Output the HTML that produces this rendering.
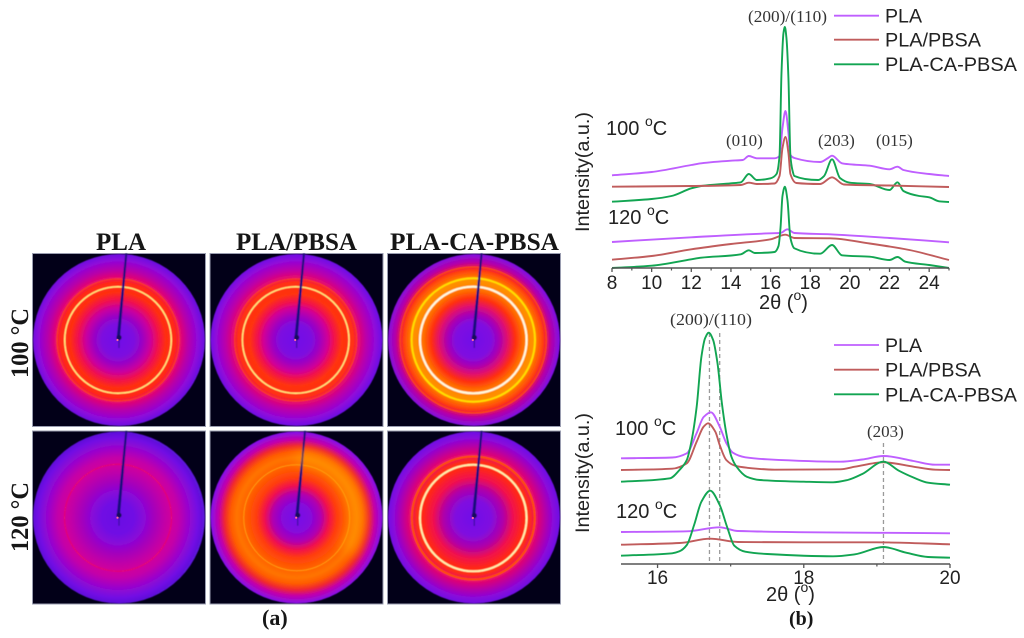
<!DOCTYPE html>
<html lang="en">
<head>
<meta charset="utf-8">
<title>WAXD patterns and diffraction profiles of PLA blends</title>
<style>
html,body{margin:0;padding:0;background:#fff;width:1024px;height:638px;overflow:hidden}
svg{display:block;filter:blur(.35px)}
.serif-b{font-family:"Liberation Serif",serif;font-weight:bold;fill:#161616}
.serif{font-family:"Liberation Serif",serif;fill:#333}
.sans{font-family:"Liberation Sans",sans-serif;fill:#222}
</style>
</head>
<body>
<svg id="figure" xmlns="http://www.w3.org/2000/svg" width="1024" height="638" viewBox="0 0 1024 638">
<defs id="defs"><filter id="soft"><feGaussianBlur stdDeviation="0.5"/></filter><filter id="glow" x="-30%" y="-30%" width="160%" height="160%"><feGaussianBlur stdDeviation="6"/></filter></defs>
<g id="panels"></g>
<text class="serif-b" x="96" y="250" font-size="25" textLength="50" lengthAdjust="spacingAndGlyphs">PLA</text>
<text class="serif-b" x="236" y="250" font-size="25" textLength="121" lengthAdjust="spacingAndGlyphs">PLA/PBSA</text>
<text class="serif-b" x="390" y="250" font-size="25" textLength="169" lengthAdjust="spacingAndGlyphs">PLA-CA-PBSA</text>
<text class="serif-b" transform="translate(28,378) rotate(-90)" font-size="25" textLength="70" lengthAdjust="spacingAndGlyphs">100 °C</text>
<text class="serif-b" transform="translate(28,552) rotate(-90)" font-size="25" textLength="70" lengthAdjust="spacingAndGlyphs">120 °C</text>
<text class="serif-b" x="262" y="625" font-size="22">(a)</text>
<text class="serif-b" x="789" y="625" font-size="20">(b)</text>

<g id="topChart"></g>
<g id="botChart"></g>

<text class="serif" x="748" y="22" font-size="17" textLength="79" lengthAdjust="spacingAndGlyphs">(200)/(110)</text>
<text class="serif" x="726" y="146" font-size="17">(010)</text>
<text class="serif" x="818" y="146" font-size="17">(203)</text>
<text class="serif" x="876" y="146" font-size="17">(015)</text>
<text class="serif" x="670" y="325" font-size="17" textLength="82" lengthAdjust="spacingAndGlyphs">(200)/(110)</text>
<text class="serif" x="867" y="437" font-size="17">(203)</text>

<text class="sans" x="606" y="135" font-size="20">100 <tspan dy="-9" font-size="14">o</tspan><tspan dy="9">C</tspan></text>
<text class="sans" x="608" y="224" font-size="20">120 <tspan dy="-9" font-size="14">o</tspan><tspan dy="9">C</tspan></text>
<text class="sans" x="615" y="435" font-size="20">100 <tspan dy="-9" font-size="14">o</tspan><tspan dy="9">C</tspan></text>
<text class="sans" x="616" y="518" font-size="20">120 <tspan dy="-9" font-size="14">o</tspan><tspan dy="9">C</tspan></text>

<text class="sans" transform="translate(589,232) rotate(-90)" font-size="19" textLength="120" lengthAdjust="spacingAndGlyphs">Intensity(a.u.)</text>
<text class="sans" transform="translate(589,533) rotate(-90)" font-size="19" textLength="120" lengthAdjust="spacingAndGlyphs">Intensity(a.u.)</text>
<text class="sans" x="759" y="309" font-size="20">2θ (<tspan dy="-9" font-size="14">o</tspan><tspan dy="9">)</tspan></text>
<text class="sans" x="766" y="601" font-size="20">2θ (<tspan dy="-9" font-size="14">o</tspan><tspan dy="9">)</tspan></text>

<g>
<line x1="834" x2="879" y1="15.7" y2="15.7" stroke="#bf5fff" stroke-width="1.8"/>
<line x1="834" x2="879" y1="39.7" y2="39.7" stroke="#c05c5c" stroke-width="1.8"/>
<line x1="834" x2="879" y1="64.3" y2="64.3" stroke="#12a552" stroke-width="1.8"/>
<text class="sans" x="885" y="22.3" font-size="19.5" textLength="37" lengthAdjust="spacingAndGlyphs">PLA</text>
<text class="sans" x="885" y="46.7" font-size="19.5" textLength="96" lengthAdjust="spacingAndGlyphs">PLA/PBSA</text>
<text class="sans" x="885" y="71" font-size="19.5" textLength="132" lengthAdjust="spacingAndGlyphs">PLA-CA-PBSA</text>
</g>
<g>
<line x1="834" x2="879" y1="345" y2="345" stroke="#bf5fff" stroke-width="1.8"/>
<line x1="834" x2="879" y1="369.7" y2="369.7" stroke="#c05c5c" stroke-width="1.8"/>
<line x1="834" x2="879" y1="394.3" y2="394.3" stroke="#12a552" stroke-width="1.8"/>
<text class="sans" x="885" y="352" font-size="19.5" textLength="37" lengthAdjust="spacingAndGlyphs">PLA</text>
<text class="sans" x="885" y="376.7" font-size="19.5" textLength="96" lengthAdjust="spacingAndGlyphs">PLA/PBSA</text>
<text class="sans" x="885" y="401.3" font-size="19.5" textLength="132" lengthAdjust="spacingAndGlyphs">PLA-CA-PBSA</text>
</g>
</svg>
<script>
/* ---------- wide-range chart data (2-theta, intensity a.u.) ---------- */
var topTicks = [8,10,12,14,16,18,20,22,24];
var topMinorTicks = [9,11,13,15,17,19,21,23,25];
var topPla100X = [8,10,12,12.5,14,14.6,14.9,15.3,16.2,16.45,16.6,16.75,16.9,17,17.2,18.5,18.9,19.1,19.6,20,21,22,22.4,22.7,24,25];
var topPla100Y = [92.7,96,103,104.7,107.3,108,112,109.7,109.7,112,140,157,135,113,110,106,110,112.3,104.7,103.7,102.3,98.7,101.3,98,94,92];
var topBlend100X = [8,12,14.5,14.9,15.3,16.2,16.45,16.6,16.75,16.9,17,17.3,18.5,19.1,19.7,22,25];
var topBlend100Y = [81.3,82,83,85.3,84,84.5,92,120,131,115,94,85,84,90.7,83.5,82.5,81];
var topCa100X = [8,10,11,12,12.5,14,14.5,14.9,15.3,16,16.3,16.45,16.55,16.65,16.72,16.8,16.9,17,17.1,17.2,18.4,18.7,19.1,19.5,20,21,22,22.4,22.7,23.5,24,24.5,25];
var topCa100Y = [66.3,69,72,79.7,82,84.7,85.7,94,88,89.7,94,112,195,235,241,230,190,112,98,92,88,92,108.7,90,85.3,84,78,85.7,77,72,70.7,66.7,66];
var topPla120X = [8,12,16,16.5,16.85,17.2,19,22,25];
var topPla120Y = [26,30.7,34.7,35,38.7,35,33.7,30,25.7];
var topBlend120X = [8,10,12,14,16,16.75,17.2,19,21,23,25];
var topBlend120Y = [8.3,12,18.7,24,28.7,33.3,30,29.7,24.5,18,8];
var topCa120X = [8,10,12,12.5,14.5,14.9,15.2,16.2,16.4,16.5,16.6,16.72,16.85,17,17.2,18.5,19.1,19.6,21,22,22.4,22.8,24,25];
var topCa120Y = [0,2.3,8.7,10.3,13.7,17.7,15,16,22,40,72,81.3,68,30,19.7,14.3,23,12.7,11.3,8,11,6.3,3,0];

/* ---------- narrow-range chart data (2-theta, intensity a.u.) ---------- */
var botTicks = [16,18,20];
var botMinorTicks = [17,19];
var botPeakMarkers = [16.71,16.85,19.09];
var botPeakMarkerTops = [231,231,121];
var botPla100X = [15.5,16.2,16.4,16.535,16.63,16.73,16.85,16.94,17.03,17.2,17.5,18.5,18.8,19.09,19.5,19.8,20];
var botPla100Y = [105.7,106.5,110.7,131,147,151.7,137.3,121,111.3,106.7,104.7,102.3,104.5,108,103,99.3,99.3];
var botBlend100X = [15.5,16.2,16.4,16.535,16.63,16.69,16.79,16.85,16.94,17.06,17.22,17.6,18.5,18.7,19.09,19.5,19.8,20];
var botBlend100Y = [94,95.3,100.7,122.3,137.3,140.7,132.3,119,104,98.3,96.3,94.3,94.7,97.3,101.7,97.3,94.3,94];
var botCa100X = [15.5,16.17,16.3,16.4,16.467,16.535,16.6,16.65,16.7,16.76,16.82,16.88,16.94,17.01,17.08,17.22,17.4,18,18.4,18.6,18.8,19.09,19.3,19.5,19.7,20];
var botCa100Y = [82.3,85.7,94,104,124,157.3,207.3,225.7,231.3,224,200.7,160.7,130.7,107.3,97.3,87.3,84,82.3,81.7,84,90,102.3,93.3,86.5,81.3,79.3];
var botPla120X = [15.5,16.4,16.85,17.1,20];
var botPla120Y = [32,32.7,36.7,33,30.7];
var botBlend120X = [15.5,16.3,16.72,17.1,18,19,20];
var botBlend120Y = [19.3,21,25.3,22,21.7,21.7,19.7];
var botCa120X = [15.5,16.2,16.3,16.4,16.5,16.6,16.72,16.85,16.95,17.05,17.2,17.5,18.4,18.7,19.09,19.4,19.7,20];
var botCa120Y = [8.3,10.7,12.7,19,39,62.3,73.3,59,37.3,18.3,12.3,10,7.7,9.7,17,11.3,7,6.3];

/* ---------- diffraction-pattern colour profiles (radius, colour) ---------- */
var plaHot100Radii = [0,16,24,32,40,48,58,62,70,80,86];
var plaHot100Colors = ['#7010e8','#7c0ce0','#9a04c4','#c800a0','#f01050','#ff3010','#ff2818','#e8086a','#b800a8','#8c08dc','#6c12e0'];
var blendHot100Radii = [0,16,24,32,38,46,58,62,70,80,86];
var blendHot100Colors = ['#7010e8','#7c0ce0','#a000c0','#d00098','#f01050','#ff3410','#ff3014','#e80a68','#bc00a8','#8e08dc','#6e12e4'];
var caHot100Radii = [0,18,26,34,42,50,56,60,64,70,73,78,86];
var caHot100Colors = ['#7010e8','#800ce0','#a800b4','#e01070','#ff3010','#ff7000','#ff8a00','#ff9000','#ff7000','#ff3c10','#e81050','#b400a8','#8010e4'];
var plaHot120Radii = [0,16,26,36,46,53,60,70,80,86];
var plaHot120Colors = ['#6a10e4','#7010e4','#8808d8','#a400bc','#c000a8','#d0009c','#c400a8','#9a04cc','#7210e4','#5c12d8'];
var blendHot120Radii = [0,14,24,32,40,50,60,66,72,78,86];
var blendHot120Colors = ['#7410e8','#8408dc','#b000b0','#f01050','#ff3c10','#ff5c00','#ff7400','#ff5c00','#f02830','#c400a8','#8410ec'];
var caHot120Radii = [0,18,30,40,50,56,63,72,80,86];
var caHot120Colors = ['#7010e8','#800ce0','#b000a8','#f01050','#ff2818','#ff3014','#e80868','#b400a8','#8808dc','#7010e4'];

var SVGNS = 'http://www.w3.org/2000/svg';
function mk(tag, parent, attrs) {
  var el = document.createElementNS(SVGNS, tag);
  for (var k in attrs) el.setAttribute(k, attrs[k]);
  parent.appendChild(el);
  return el;
}

/* monotone cubic path through data-derived pixel points */
function curve(px, py) {
  var n = px.length, d = [], m = [], i;
  for (i = 0; i < n - 1; i++) d[i] = (py[i + 1] - py[i]) / (px[i + 1] - px[i]);
  m[0] = d[0]; m[n - 1] = d[n - 2];
  for (i = 1; i < n - 1; i++) {
    if (d[i - 1] * d[i] <= 0) m[i] = 0;
    else {
      var h0 = px[i] - px[i - 1], h1 = px[i + 1] - px[i];
      m[i] = 3 * (h0 + h1) / ((2 * h1 + h0) / d[i - 1] + (h1 + 2 * h0) / d[i]);
    }
  }
  var s = 'M' + px[0].toFixed(2) + ' ' + py[0].toFixed(2);
  for (i = 0; i < n - 1; i++) {
    var h = (px[i + 1] - px[i]) / 3;
    s += 'C' + (px[i] + h).toFixed(2) + ' ' + (py[i] + m[i] * h).toFixed(2) + ' ' +
      (px[i + 1] - h).toFixed(2) + ' ' + (py[i + 1] - m[i + 1] * h).toFixed(2) + ' ' +
      px[i + 1].toFixed(2) + ' ' + py[i + 1].toFixed(2);
  }
  return s;
}

/* axis functions */
function topXScale(v) { return 612 + (v - 8) * (949 - 612) / 17; }
function topYScale(v) { return 268 - v; }
function botXScale(v) { return 621 + (v - 15.5) * (950 - 621) / 4.5; }
function botYScale(v) { return 564 - v; }

function drawSeries(group, xs, ys, xScale, yScale, color, name) {
  var p = mk('path', group, {d: curve(xs.map(xScale), ys.map(yScale)), fill: 'none', stroke: color, 'stroke-width': 1.9});
  
  
}

function drawAxis(group, y, x0, x1, majors, minors, xScale, labelY) {
  var axis = mk('line', group, {x1: x0, x2: x1, y1: y, y2: y, stroke: '#555', 'stroke-width': 1.5});
  
  
  majors.forEach(function (v) {
    var t = mk('line', group, {x1: xScale(v), x2: xScale(v), y1: y, y2: y + 4, stroke: '#555', 'stroke-width': 1.3});
    
    
    var l = mk('text', group, {x: xScale(v), y: labelY, 'text-anchor': 'middle', 'font-size': 19, 'class': 'sans'});
    l.textContent = String(v);
    
    
  });
  minors.forEach(function (v) {
    var t = mk('line', group, {x1: xScale(v), x2: xScale(v), y1: y, y2: y + 2.5, stroke: '#555', 'stroke-width': 1.2});
    
    
  });
}

var PURPLE = '#bf5fff', RED = '#c05c5c', GREEN = '#12a552';

/* wide-range chart */
var topG = document.getElementById('topChart');
drawSeries(topG, topPla100X, topPla100Y, topXScale, topYScale, PURPLE, 'pla-100c-curve');
drawSeries(topG, topCa100X, topCa100Y, topXScale, topYScale, GREEN, 'pla-ca-pbsa-100c-curve');
drawSeries(topG, topBlend100X, topBlend100Y, topXScale, topYScale, RED, 'pla-pbsa-100c-curve');
drawSeries(topG, topPla120X, topPla120Y, topXScale, topYScale, PURPLE, 'pla-120c-curve');
drawSeries(topG, topBlend120X, topBlend120Y, topXScale, topYScale, RED, 'pla-pbsa-120c-curve');
drawSeries(topG, topCa120X, topCa120Y, topXScale, topYScale, GREEN, 'pla-ca-pbsa-120c-curve');
drawAxis(topG, 268, topXScale(8), topXScale(25), topTicks, topMinorTicks, topXScale, 289);

/* narrow-range chart */
var botG = document.getElementById('botChart');
botPeakMarkers.forEach(function (v, i) {
  var m = mk('line', botG, {x1: botXScale(v), x2: botXScale(v), y1: botYScale(botPeakMarkerTops[i]), y2: 563, stroke: '#9a9a9a', 'stroke-width': 1.3, 'stroke-dasharray': '4 3'});
  
  
});
drawSeries(botG, botPla100X, botPla100Y, botXScale, botYScale, PURPLE, 'pla-100c-curve');
drawSeries(botG, botBlend100X, botBlend100Y, botXScale, botYScale, RED, 'pla-pbsa-100c-curve');
drawSeries(botG, botCa100X, botCa100Y, botXScale, botYScale, GREEN, 'pla-ca-pbsa-100c-curve');
drawSeries(botG, botPla120X, botPla120Y, botXScale, botYScale, PURPLE, 'pla-120c-curve');
drawSeries(botG, botBlend120X, botBlend120Y, botXScale, botYScale, RED, 'pla-pbsa-120c-curve');
drawSeries(botG, botCa120X, botCa120Y, botXScale, botYScale, GREEN, 'pla-ca-pbsa-120c-curve');
drawAxis(botG, 564, botXScale(15.5), botXScale(20), botTicks, botMinorTicks, botXScale, 584);

/* diffraction patterns */
var defs = document.getElementById('defs');
var panelsG = document.getElementById('panels');
function drawPanel(id, left, top, beamX, beamY, radii, colors, rings) {
  var w = 173, h = 173, R = 86;
  var cx = left + w / 2, cy = top + h / 2;
  var grad = mk('radialGradient', defs, {id: id, gradientUnits: 'userSpaceOnUse', cx: beamX, cy: beamY, r: R + 2, fx: beamX, fy: beamY});
  radii.forEach(function (r, i) {
    mk('stop', grad, {offset: r / (R + 2), 'stop-color': colors[i]});
  });
  var g = mk('g', panelsG, {});
  
  
  var bg = mk('rect', g, {x: left, y: top, width: w, height: h, fill: '#020018', stroke: '#9a9db0', 'stroke-width': 1});
  
  
  var inner = mk('g', g, {filter: 'url(#soft)'});
  var disc = mk('circle', inner, {cx: cx, cy: cy, r: R, fill: 'url(#' + id + ')'});
  
  
  if (id === 'blend-120') {
    var glow = mk('circle', g, {cx: beamX, cy: beamY, r: 60, fill: 'none', stroke: '#ffa000', 'stroke-width': 14, opacity: 0.65, 'stroke-dasharray': '130 247', 'stroke-dashoffset': '95', filter: 'url(#glow)'});
    
    
  }
  rings.forEach(function (ring) {
    var c = mk('circle', inner, {cx: beamX, cy: beamY, r: ring[0], fill: 'none', stroke: ring[1], 'stroke-width': ring[2]});
    
    
  });
  var stopTopX = beamX + 8.3;
  var stop = mk('polygon', inner, {points: (stopTopX - 1) + ',' + top + ' ' + (stopTopX + 1) + ',' + top + ' ' + (beamX + 2) + ',' + (beamY - 3) + ' ' + (beamX - 1.2) + ',' + (beamY - 3), fill: '#12107e'});
  
  
  mk('circle', inner, {cx: beamX + 1, cy: beamY - 2.5, r: 2.6, fill: '#14105c'});
  mk('line', inner, {x1: beamX + 1, x2: beamX + 1, y1: beamY, y2: beamY + 8, stroke: '#3a0ea0', 'stroke-width': 1.2});
  mk('circle', g, {cx: beamX - 0.5, cy: beamY, r: 1.1, fill: '#ff6aa0'});
}
drawPanel('pla-100', 32.5, 253.5, 118, 340, plaHot100Radii, plaHot100Colors, [[53.3,'#ffec80',1.5],[61,'#ff4010',1.1]]);
drawPanel('blend-100', 210, 253.5, 295.7, 340, blendHot100Radii, blendHot100Colors, [[53.3,'#ffec80',1.5],[61,'#ff4010',1.1]]);
drawPanel('ca-100', 387.5, 253.5, 473.3, 340, caHot100Radii, caHot100Colors, [[53.3,'#fffbe0',2.2],[61.7,'#ffe000',2],[73,'#ff4a00',1.3]]);
drawPanel('pla-120', 32.5, 431, 118, 517.7, plaHot120Radii, plaHot120Colors, [[53.5,'#e8086a',1]]);
drawPanel('blend-120', 210, 431, 296.7, 517.7, blendHot120Radii, blendHot120Colors, [[53,'#ff9a10',1]]);
drawPanel('ca-120', 387.5, 431, 473.3, 518, caHot120Radii, caHot120Colors, [[53.3,'#fff4b0',2],[61.5,'#ff5000',2]]);
</script>
</body>
</html>
